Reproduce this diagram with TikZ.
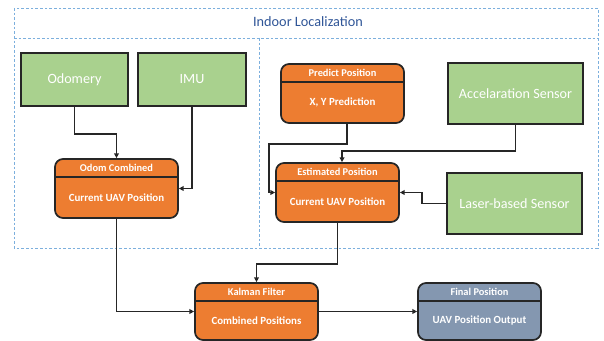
\documentclass[tikz,border=0pt]{standalone}
\usepackage{fontspec}
\setmainfont{Carlito}
\usepackage{xcolor}
\usepackage{tikz}
\usetikzlibrary{arrows.meta, positioning}
\definecolor{sensorgreen}{RGB}{169,209,142}
\definecolor{stateorange}{RGB}{237,125,49}
\definecolor{outputgray}{RGB}{132,151,176}
\definecolor{framedash}{RGB}{91,155,213}
\definecolor{titleblue}{RGB}{47,85,151}
\tikzstyle{sensorbox} = [rectangle, fill=sensorgreen, draw=black!85,
line width=1.3pt, inner sep=0pt, text=white,
font=\fontsize{10.6}{12}\selectfont]
\tikzstyle{statebox} = [rectangle, rounded corners=6pt,
fill=stateorange, draw=black!85, line width=1.3pt, inner sep=0pt,
minimum width=92.25pt, minimum height=44.25pt]
\tikzstyle{headband} = [rectangle, inner sep=0pt,
minimum width=92.25pt, minimum height=13.5pt, text=white,
font=\fontsize{7.8}{9}\selectfont\bfseries]
\tikzstyle{bodyband} = [rectangle, inner sep=0pt,
minimum width=92.25pt, minimum height=30.75pt, text=white,
font=\fontsize{8.2}{10}\selectfont\bfseries]
\tikzstyle{divider} = [draw=black!85, line width=1.3pt]
\tikzstyle{frame} = [draw=framedash!80, line width=0.6pt, dash pattern=on 2pt off 1.5pt]
\tikzstyle{arrow} = [-{Triangle[length=3.5pt, width=3.5pt]}, line width=1pt, draw=black!85]

\begin{document}
\begin{tikzpicture}[x=0.75pt, y=-0.75pt]
    \useasboundingbox (0,0) rectangle (604,341);

    % localization frame
    \draw[frame] (14,8) rectangle (598,248);
    \draw[frame] (14,38) -- (598,38);
    \draw[frame] (259,38) -- (259,248);
    \node (title) [text=titleblue, font=\fontsize{10.7}{12}\selectfont] at (308,22) {Indoor Localization};

    % sensors
    \node (odomery) [sensorbox, minimum width=80.25pt, minimum height=39.75pt] at (74.5,79.5) {Odomery};
    \node (imu)     [sensorbox, minimum width=81pt, minimum height=39.75pt]    at (192,79.5)  {IMU};
    \node (accel)   [sensorbox, minimum width=101.25pt, minimum height=45.75pt] at (515.5,93.5) {Accelaration Sensor};
    \node (laser)   [sensorbox, minimum width=101.25pt, minimum height=45.75pt] at (514.5,203.5) {Laser-based Sensor};

    % states
    \node (predict) [statebox] at (342.5,93.5) {};
    \node (predicthead) [headband, below=0pt of predict.north] {Predict Position};
    \draw[divider] (predicthead.south west) -- (predicthead.south east);
    \node [bodyband, below=0pt of predicthead] {X, Y Prediction};

    \node (odomcomb) [statebox] at (116.5,188.5) {};
    \node (odomcombhead) [headband, below=0pt of odomcomb.north] {Odom Combined};
    \draw[divider] (odomcombhead.south west) -- (odomcombhead.south east);
    \node [bodyband, below=0pt of odomcombhead] {Current UAV Position};

    \node (estim) [statebox] at (337.5,192.5) {};
    \node (estimhead) [headband, below=0pt of estim.north] {Estimated Position};
    \draw[divider] (estimhead.south west) -- (estimhead.south east);
    \node [bodyband, below=0pt of estimhead] {Current UAV Position};

    \node (kalman) [statebox, minimum height=42.75pt] at (256.5,311.5) {};
    \node (kalmanhead) [headband, below=0pt of kalman.north] {Kalman Filter};
    \draw[divider] (kalmanhead.south west) -- (kalmanhead.south east);
    \node [bodyband, minimum height=29.25pt, below=0pt of kalmanhead] {Combined Positions};

    \node (final) [statebox, fill=outputgray, minimum height=42.75pt] at (479.5,311.5) {};
    \node (finalhead) [headband, below=0pt of final.north] {Final Position};
    \draw[divider] (finalhead.south west) -- (finalhead.south east);
    \node [bodyband, minimum height=29.25pt, below=0pt of finalhead] {UAV Position Output};

    % connectors
    \draw[arrow] (odomery.south) -- ++(0,27) -| (odomcomb.north);
    \draw[arrow] (imu.south) |- (odomcomb.east);
    \draw[arrow] ([xshift=3.4pt]predict.south) -- ++(0,20) -- ++(-78,0) |- (estim.west);
    \draw[arrow] (accel.south) -- ++(0,26) -| ([xshift=3.4pt]estim.north);
    \draw[arrow] (laser.west) -- ++(-24,0) |- (estim.east);
    \draw[arrow] (odomcomb.south) |- (kalman.west);
    \draw[arrow] (estim.south) -- ++(0,41) -| (kalman.north);
    \draw[arrow] (kalman) -- (final);
\end{tikzpicture}
\end{document}
